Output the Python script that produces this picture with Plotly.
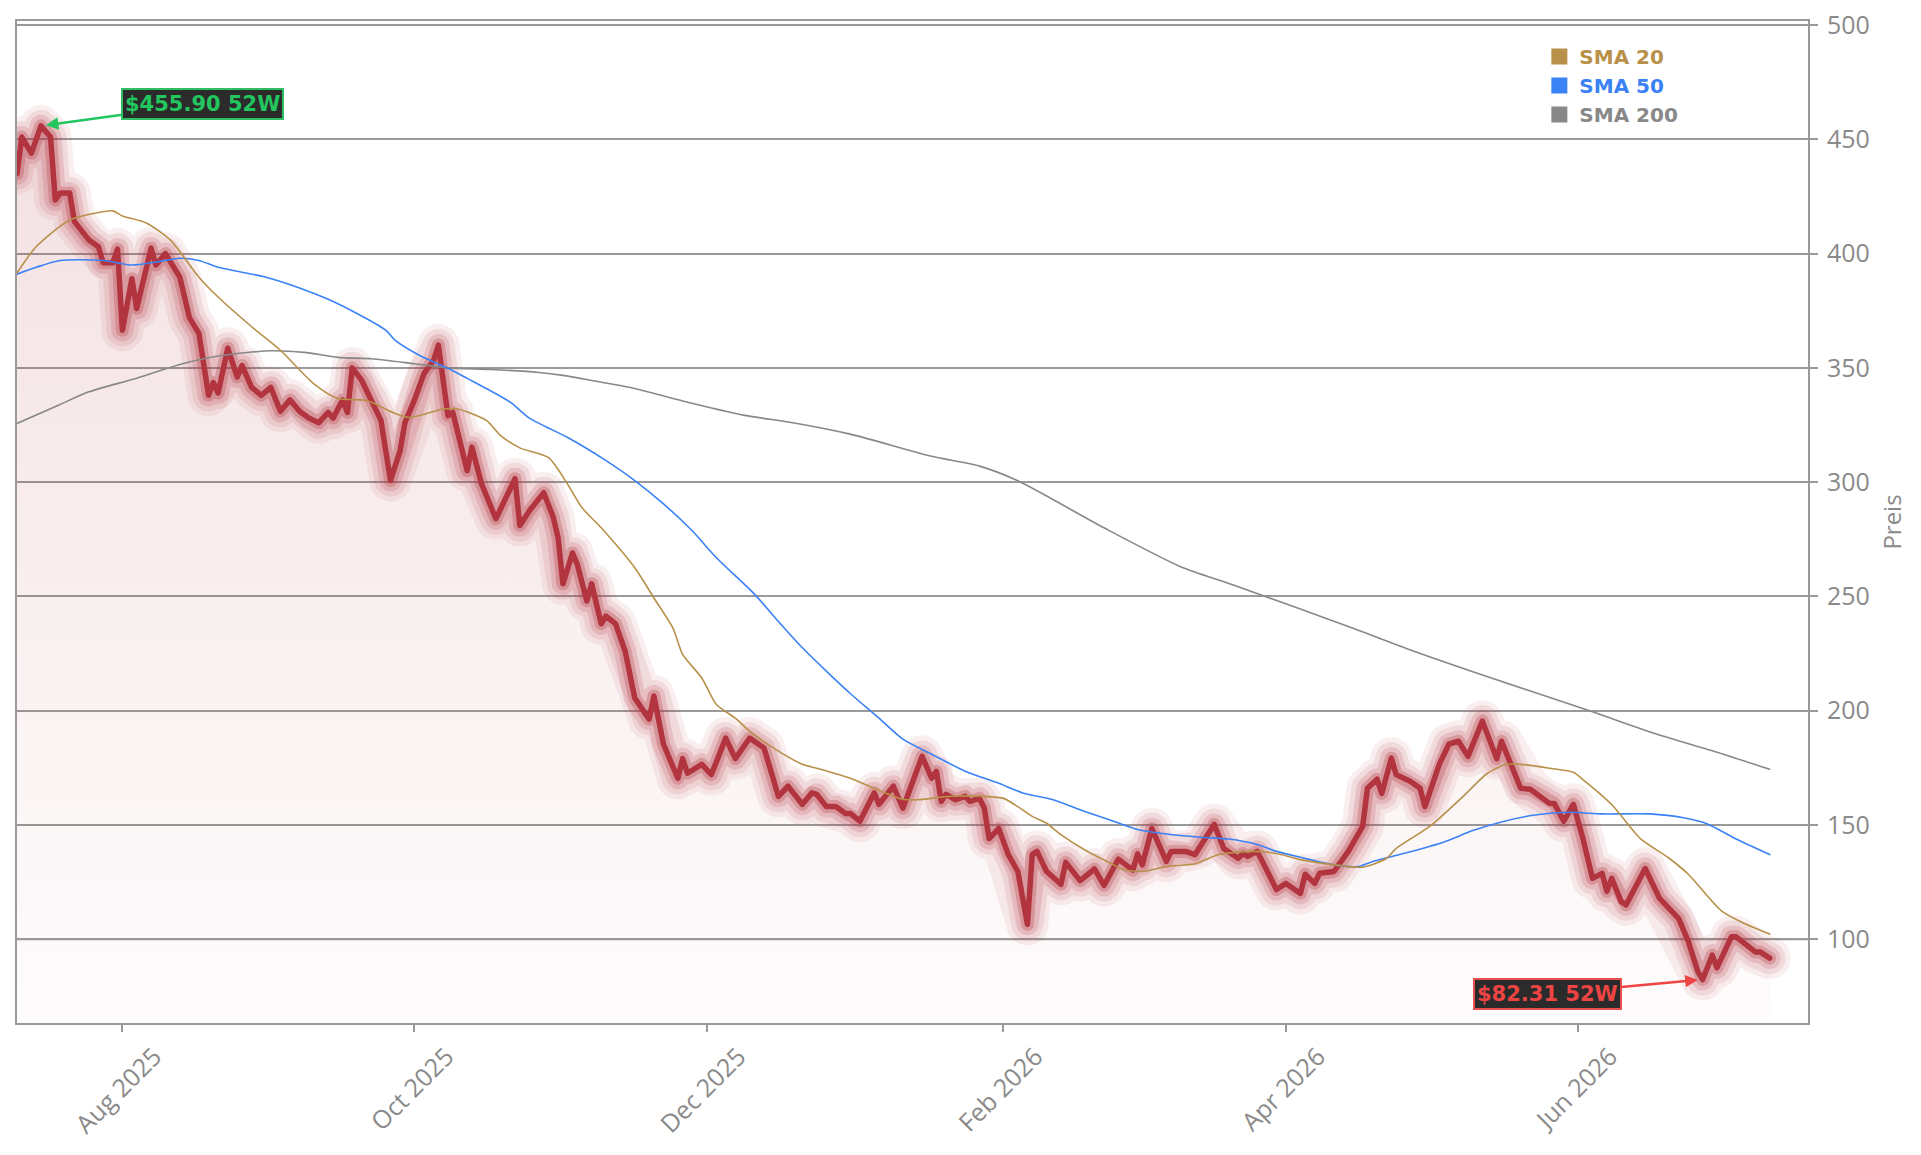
import plotly.graph_objects as go

# ---------------- data ----------------
price_dates = [
    "2025-07-10", "2025-07-11", "2025-07-13", "2025-07-15", "2025-07-17", "2025-07-18", "2025-07-19",
    "2025-07-21", "2025-07-22", "2025-07-25", "2025-07-27", "2025-07-28", "2025-07-30", "2025-07-31",
    "2025-08-01", "2025-08-03", "2025-08-04", "2025-08-07", "2025-08-08", "2025-08-10", "2025-08-13",
    "2025-08-15", "2025-08-17", "2025-08-19", "2025-08-20", "2025-08-21", "2025-08-23", "2025-08-25",
    "2025-08-26", "2025-08-28", "2025-08-30", "2025-09-01", "2025-09-03", "2025-09-05", "2025-09-07",
    "2025-09-09", "2025-09-11", "2025-09-13", "2025-09-14", "2025-09-16", "2025-09-17", "2025-09-18",
    "2025-09-20", "2025-09-22", "2025-09-24", "2025-09-26", "2025-09-28", "2025-09-29", "2025-10-01",
    "2025-10-03", "2025-10-05", "2025-10-06", "2025-10-08", "2025-10-09", "2025-10-12", "2025-10-13",
    "2025-10-15", "2025-10-18", "2025-10-22", "2025-10-23", "2025-10-25", "2025-10-28", "2025-10-30",
    "2025-10-31", "2025-11-01", "2025-11-03", "2025-11-04", "2025-11-06", "2025-11-07", "2025-11-09",
    "2025-11-10", "2025-11-12", "2025-11-14", "2025-11-16", "2025-11-19", "2025-11-20", "2025-11-22",
    "2025-11-25", "2025-11-26", "2025-11-27", "2025-11-30", "2025-12-02", "2025-12-05", "2025-12-07",
    "2025-12-10", "2025-12-13", "2025-12-16", "2025-12-18", "2025-12-21", "2025-12-23", "2025-12-24",
    "2025-12-26", "2025-12-28", "2025-12-30", "2025-12-31", "2026-01-02", "2026-01-05", "2026-01-06",
    "2026-01-09", "2026-01-11", "2026-01-15", "2026-01-17", "2026-01-18", "2026-01-19", "2026-01-20",
    "2026-01-22", "2026-01-24", "2026-01-25", "2026-01-27", "2026-01-28", "2026-01-29", "2026-01-31",
    "2026-02-02", "2026-02-04", "2026-02-06", "2026-02-07", "2026-02-08", "2026-02-10", "2026-02-13",
    "2026-02-14", "2026-02-17", "2026-02-20", "2026-02-22", "2026-02-25", "2026-02-28", "2026-03-01",
    "2026-03-02", "2026-03-04", "2026-03-07", "2026-03-08", "2026-03-11", "2026-03-13", "2026-03-14",
    "2026-03-17", "2026-03-19", "2026-03-22", "2026-03-23", "2026-03-24", "2026-03-26", "2026-03-28",
    "2026-03-30", "2026-04-01", "2026-04-04", "2026-04-05", "2026-04-07", "2026-04-08", "2026-04-11",
    "2026-04-14", "2026-04-17", "2026-04-18", "2026-04-20", "2026-04-21", "2026-04-23", "2026-04-24",
    "2026-04-27", "2026-04-29", "2026-04-30", "2026-05-03", "2026-05-05", "2026-05-07", "2026-05-09",
    "2026-05-12", "2026-05-15", "2026-05-16", "2026-05-20", "2026-05-22", "2026-05-26", "2026-05-27",
    "2026-05-29", "2026-05-31", "2026-06-02", "2026-06-04", "2026-06-06", "2026-06-07", "2026-06-08",
    "2026-06-10", "2026-06-11", "2026-06-15", "2026-06-18", "2026-06-22", "2026-06-24", "2026-06-26",
    "2026-06-27", "2026-06-29", "2026-06-30", "2026-07-03", "2026-07-04", "2026-07-08", "2026-07-09",
    "2026-07-11",
]
price_values = [
    435, 451, 444, 455.90, 451, 423.5, 426.5,
    426.5, 414, 406, 403, 396, 396, 402,
    366.5, 389, 376, 402.4, 395, 400, 389.7,
    372, 365, 338, 343.6, 339, 358.6, 346,
    351, 341.5, 338, 341.5, 331, 336, 331,
    328, 326, 330.5, 328, 336, 330.5, 350,
    344.5, 336, 327, 300.7, 313.8, 326, 336,
    347.6, 353.3, 360, 329, 330.5, 305, 315.3,
    299.3, 284, 301.5, 281, 287.5, 295.4, 284.5,
    275.6, 255.5, 269, 264, 248, 255.5, 238,
    241.4, 238, 226, 205.5, 196.3, 206.4, 185.3,
    170.4, 179, 172.6, 176.5, 172, 188, 179,
    188, 183.6, 162.5, 166.9, 159, 164, 163.4,
    158, 158, 155, 155, 151.6, 164, 159,
    166.9, 157.3, 180, 170.4, 173.4, 160.3, 163.4,
    161, 162.5, 160.3, 161.6, 157.3, 144, 148.4,
    137, 129.6, 106.5, 137, 138.4, 129.6, 124,
    133.6, 125.6, 130.7, 123.5, 135, 130.2, 137.3,
    132.5, 148.4, 134, 138.4, 138.4, 137, 140.5,
    150.2, 139.7, 135.4, 137.5, 136.2, 138.4, 129.6,
    121.7, 124.4, 120, 128.4, 124.4, 128.8, 129.6,
    138.4, 149.3, 166, 170, 163.8, 179.2, 172,
    169, 166, 158, 176.5, 185.3, 186.6, 180,
    195.4, 179, 186.6, 166, 165.6, 159.4, 159.4,
    151.6, 159, 144, 126.6, 128.8, 120.9, 126.6,
    116.4, 115, 130.9, 117.8, 109, 99, 85.8,
    82.31, 93, 87.5, 101, 101, 94.4, 94.4,
    91.7,
]

sma20_dates = [
    "2025-07-10", "2025-07-14", "2025-07-21", "2025-07-27", "2025-07-30", "2025-08-01", "2025-08-06",
    "2025-08-11", "2025-08-14", "2025-08-17", "2025-08-21", "2025-08-28", "2025-09-03", "2025-09-10",
    "2025-09-15", "2025-09-21", "2025-09-27", "2025-09-30", "2025-10-07", "2025-10-10", "2025-10-16",
    "2025-10-19", "2025-10-23", "2025-10-29", "2025-11-02", "2025-11-05", "2025-11-09", "2025-11-16",
    "2025-11-20", "2025-11-24", "2025-11-26", "2025-11-30", "2025-12-03", "2025-12-07", "2025-12-10",
    "2025-12-15", "2025-12-21", "2025-12-24", "2025-12-31", "2026-01-04", "2026-01-11", "2026-01-14",
    "2026-01-21", "2026-01-28", "2026-02-01", "2026-02-04", "2026-02-07", "2026-02-10", "2026-02-13",
    "2026-02-18", "2026-02-24", "2026-02-26", "2026-03-02", "2026-03-07", "2026-03-13", "2026-03-18",
    "2026-03-25", "2026-03-30", "2026-04-04", "2026-04-11", "2026-04-17", "2026-04-22", "2026-04-24",
    "2026-05-01", "2026-05-08", "2026-05-13", "2026-05-17", "2026-05-20", "2026-05-26", "2026-05-31",
    "2026-06-02", "2026-06-08", "2026-06-14", "2026-06-20", "2026-06-24", "2026-07-01", "2026-07-06",
    "2026-07-11",
]
sma20_values = [
    391.5, 403, 414.7, 418, 418.7, 416.5, 413.4,
    406, 398, 389.7, 381, 368, 357.7, 343,
    336.6, 335.7, 330, 328.3, 332, 332, 327,
    320.4, 315, 310.7, 299, 288.8, 280, 262.5,
    249.3, 236, 224.6, 214.3, 202.8, 196.7, 191,
    183.6, 176.5, 174.8, 170.4, 166.9, 161.2, 161,
    162.5, 162.5, 161.6, 158, 153.7, 150.7, 145.7,
    139, 132.5, 130.4, 129.6, 131.8, 133, 137,
    138.4, 137.5, 134.8, 132.5, 131.5, 135.4, 139.7,
    149.3, 162.5, 172.5, 176.5, 176.5, 174.8, 173,
    169.8, 158.9, 144, 135.4, 128.4, 112.3, 106.6,
    102.2,
]

sma50_dates = [
    "2025-07-10", "2025-07-14", "2025-07-19", "2025-07-28", "2025-08-03", "2025-08-08", "2025-08-13",
    "2025-08-17", "2025-08-21", "2025-08-31", "2025-09-07", "2025-09-13", "2025-09-19", "2025-09-25",
    "2025-09-27", "2025-10-02", "2025-10-08", "2025-10-12", "2025-10-16", "2025-10-21", "2025-10-25",
    "2025-11-02", "2025-11-10", "2025-11-16", "2025-11-22", "2025-11-28", "2025-12-03", "2025-12-11",
    "2025-12-16", "2025-12-21", "2025-12-26", "2025-12-31", "2026-01-06", "2026-01-11", "2026-01-17",
    "2026-01-24", "2026-01-31", "2026-02-05", "2026-02-11", "2026-02-18", "2026-02-24", "2026-03-01",
    "2026-03-07", "2026-03-14", "2026-03-20", "2026-03-26", "2026-03-30", "2026-04-04", "2026-04-11",
    "2026-04-16", "2026-04-19", "2026-04-28", "2026-05-04", "2026-05-10", "2026-05-16", "2026-05-23",
    "2026-05-30", "2026-06-06", "2026-06-16", "2026-06-23", "2026-06-28", "2026-07-04", "2026-07-11",
]
sma50_values = [
    391, 394, 397, 397, 395, 396.3, 398,
    397, 394, 389.7, 385, 380, 373.8, 366.5,
    362, 355.5, 349.8, 345.4, 341, 335, 328,
    319.5, 309.4, 300.7, 290.5, 278.7, 267, 251,
    239, 227.5, 217.3, 207.5, 196.7, 187.5, 180.9,
    173.5, 168.2, 164, 161.2, 155.9, 151.6, 148,
    146, 144.6, 143.8, 141.4, 138.4, 135.8, 132.5,
    131.8, 133.9, 138.8, 142.5, 147.5, 151.3, 154.3,
    155.5, 154.8, 154.8, 153.1, 150.4, 143.8, 137,
]

sma200_dates = [
    "2025-07-10", "2025-07-19", "2025-07-25", "2025-08-04", "2025-08-13", "2025-08-22", "2025-09-01",
    "2025-09-08", "2025-09-15", "2025-09-22", "2025-10-01", "2025-10-08", "2025-10-17", "2025-10-27",
    "2025-11-01", "2025-11-07", "2025-11-16", "2025-11-26", "2025-12-09", "2025-12-19", "2025-12-31",
    "2026-01-17", "2026-01-27", "2026-02-04", "2026-02-22", "2026-03-10", "2026-03-21", "2026-04-15",
    "2026-04-27", "2026-05-10", "2026-06-04", "2026-06-17", "2026-06-30", "2026-07-11",
]
sma200_values = [
    325.7, 334, 339.5, 345.5, 351.5, 355.5, 357.5,
    356.8, 354.6, 354, 351.8, 350, 349.3, 348,
    346.7, 344.5, 341, 335.5, 329.2, 326, 321,
    311.3, 307, 300.6, 280, 263, 255, 236,
    226.5, 217, 199.5, 190, 181.8, 174.3,
]

y_tick_values = [100, 150, 200, 250, 300, 350, 400, 450, 500]
x_range = ["2025-07-10", "2026-07-19"]
y_range = [63.3, 501.8]

high_date, high_value, high_label = "2025-07-15", 455.90, "$455.90 52W"
low_date, low_value, low_label = "2026-06-27", 82.31, "$82.31 52W"
level_line = 100

series_names = ["SMA 20", "SMA 50", "SMA 200"]
series_colors = ["#b8904a", "#3b82f6", "#888888"]

PRICE_RGB = "178,52,62"
AXIS_GRAY = "#9a9a9a"
TEXT_GRAY = "#8a8a8a"

# ---------------- figure ----------------
fig = go.Figure()

# gradient area under the price
fig.add_trace(go.Scatter(
    x=price_dates, y=price_values, mode="lines", line=dict(width=0),
    fill="tozeroy",
    fillgradient=dict(type="vertical",
                      colorscale=[[0, f"rgba({PRICE_RGB},0.015)"], [1, f"rgba({PRICE_RGB},0.15)"]],
                      start=y_range[0], stop=high_value),
    hoverinfo="skip", showlegend=False,
))

# glow layers
for w, a in [(42, 0.08), (32, 0.11), (22, 0.16), (13, 0.27)]:
    fig.add_trace(go.Scatter(
        x=price_dates, y=price_values, mode="lines",
        line=dict(color=f"rgba({PRICE_RGB},{a})", width=w),
        hoverinfo="skip", showlegend=False,
    ))

# price line
fig.add_trace(go.Scatter(
    x=price_dates, y=price_values, mode="lines",
    line=dict(color=f"rgb({PRICE_RGB})", width=5.5),
    name="Preis", showlegend=False,
))

# moving averages
for dates, vals, col in [(sma200_dates, sma200_values, series_colors[2]),
                         (sma50_dates, sma50_values, series_colors[1]),
                         (sma20_dates, sma20_values, series_colors[0])]:
    fig.add_trace(go.Scatter(x=dates, y=vals, mode="lines",
                             line=dict(color=col, width=1.6, shape="spline", smoothing=0.7),
                             showlegend=False, hoverinfo="skip"))

# legend entries (square markers, coloured text)
for name, col in zip(series_names, series_colors):
    fig.add_trace(go.Scatter(
        x=[None], y=[None], mode="markers",
        marker=dict(symbol="square", size=16, color=col),
        name=f"<b><span style='color:{col}'>{name}</span></b>",
        showlegend=True,
    ))

fig.add_shape(type="line", xref="paper", x0=0, x1=1, yref="y", y0=level_line, y1=level_line,
              line=dict(color="#ad8f8c", width=2), layer="between")

fig.add_annotation(
    x=high_date, y=high_value, text=f"<b>{high_label}</b>",
    showarrow=True, arrowhead=2, arrowsize=1, arrowwidth=2.5, arrowcolor="#22c55e",
    ax=162, ay=-22, standoff=5,
    font=dict(family="DejaVu Sans", size=21, color="#22c55e"),
    bgcolor="#2b2b2b", bordercolor="#2fbf62", borderwidth=2, borderpad=2,
)
fig.add_annotation(
    x=low_date, y=low_value, text=f"<b>{low_label}</b>",
    showarrow=True, arrowhead=2, arrowsize=1, arrowwidth=2.5, arrowcolor="#ef4444",
    ax=-155, ay=14, standoff=5,
    font=dict(family="DejaVu Sans", size=21, color="#ef4444"),
    bgcolor="#2b2b2b", bordercolor="#e85050", borderwidth=2, borderpad=2,
)

fig.update_layout(
    width=1921, height=1155,
    margin=dict(l=17, r=113, t=21, b=132, autoexpand=False),
    paper_bgcolor="white", plot_bgcolor="white",
    font=dict(family="Open Sans", size=25, color=TEXT_GRAY),
    showlegend=True,
    legend=dict(x=0.850, y=0.984, xanchor="left", yanchor="top",
                bgcolor="rgba(0,0,0,0)", borderwidth=0,
                font=dict(family="DejaVu Sans", size=20),
                tracegroupgap=0, itemclick=False),
    xaxis=dict(
        type="date", range=x_range, tick0="2025-08-01", dtick="M2", tickformat="%b %Y",
        tickangle=-45, ticks="outside", ticklen=7, tickwidth=2, tickcolor=AXIS_GRAY,
        ticklabelshift=32,
        showline=True, linecolor=AXIS_GRAY, linewidth=2, mirror=True,
        showgrid=False, zeroline=False,
        tickfont=dict(family="Open Sans", size=25, color=TEXT_GRAY),
    ),
    yaxis=dict(
        side="right", range=y_range, tickvals=y_tick_values,
        ticks="outside", ticklen=8, tickwidth=2, tickcolor=AXIS_GRAY,
        ticklabelstandoff=4,
        showline=True, linecolor=AXIS_GRAY, linewidth=2, mirror=True,
        showgrid=True, gridcolor=AXIS_GRAY, gridwidth=2, zeroline=False,
        tickfont=dict(family="Open Sans", size=25, color=TEXT_GRAY),
        title=dict(text="Preis", font=dict(family="Open Sans", size=24, color=TEXT_GRAY), standoff=15),
    ),
)

# round joins/caps on line traces so the glow looks smooth
round_joins = """
var gd = document.getElementById('{plot_id}');
function roundLines() {
  gd.querySelectorAll('.scatterlayer path.js-line').forEach(function (p) {
    p.style.strokeLinejoin = 'round';
    p.style.strokeLinecap = 'round';
  });
}
roundLines();
gd.on('plotly_afterplot', roundLines);
"""

fig.write_html("out.html", post_script=round_joins)
